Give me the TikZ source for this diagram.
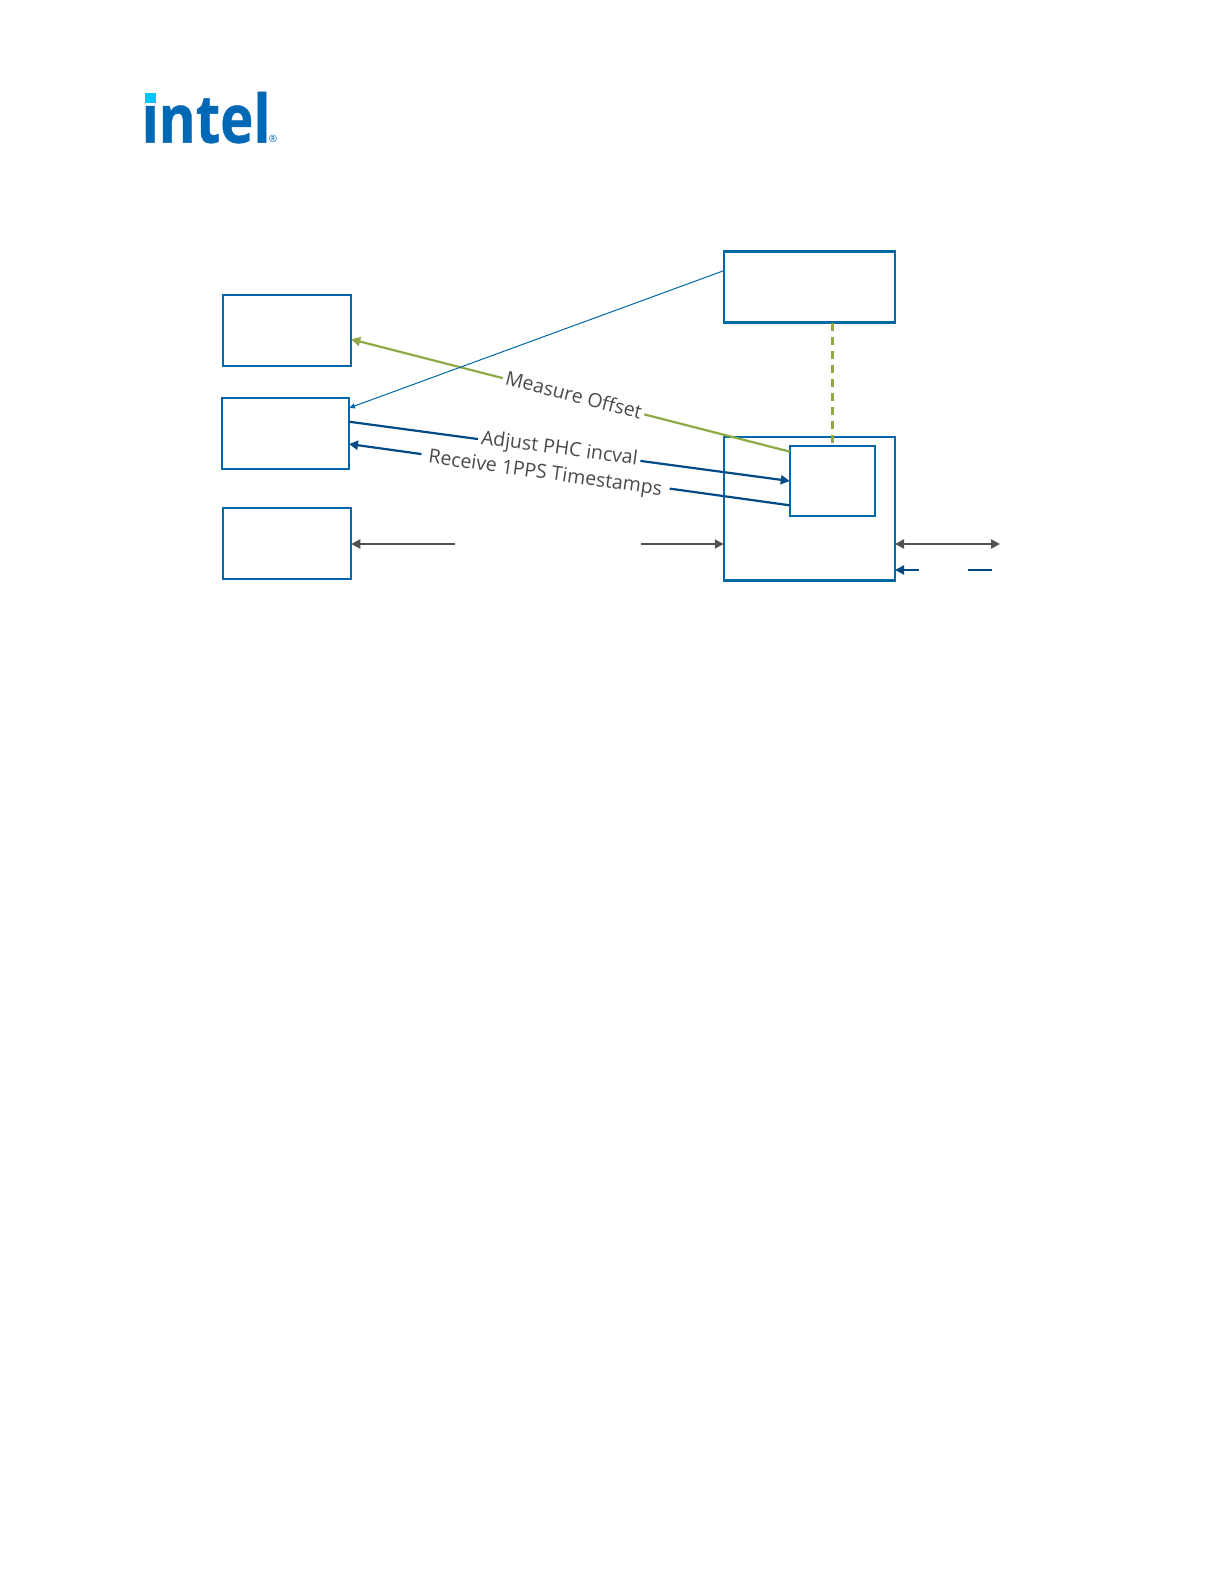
\documentclass[tikz,border=0pt]{standalone}
\usepackage{fontspec}
\setmainfont{Open Sans}
\newfontfamily\logofont[FakeStretch=0.84, FakeBold=0.6]{Open Sans}
\usetikzlibrary{arrows.meta, positioning}
\definecolor{cbox}{HTML}{0068A8}
\definecolor{cdark}{HTML}{004A86}
\definecolor{cgreen}{HTML}{8FAA45}
\definecolor{cgrey}{HTML}{525252}
\definecolor{clogo}{HTML}{0068B5}
\definecolor{ccyan}{HTML}{00C7FD}
\tikzset{
  every picture/.style={line width=2.2pt},
  box/.style={draw=cbox, fill=white, inner sep=0pt, outer sep=0pt, minimum width=128.5pt, minimum height=71pt},
  arrow/.style={-{Triangle[length=9pt, width=9pt]}, draw=#1},
  arrow/.default=cdark,
  dualarrow/.style={{Triangle[length=9pt, width=9pt]}-{Triangle[length=9pt, width=9pt]}, draw=cgrey},
  plain/.style={draw=#1},
  lab/.style={font=\fontsize{19.5}{19.5}\selectfont, text=cgrey!90!black, fill=white, sloped, inner xsep=3pt, inner ysep=0pt},
}

\begin{document}
\begin{tikzpicture}[x=1pt, y=-1pt, node distance=32pt and 1cm]
  \useasboundingbox (0,0) rectangle (1224,1584);
  % logo
  \node[font=\logofont\bfseries\fontsize{67}{67}\selectfont, text=clogo, inner sep=0pt, anchor=base west] (logotext) at (140.5,142.7) {intel};
  \node[fill=white, inner sep=0pt, minimum width=19pt, minimum height=19pt, anchor=south west] (logomask) at (139,105) {};
  \node[fill=ccyan, inner sep=0pt, minimum width=10.5pt, minimum height=10pt, anchor=north west] (logodot) at (144,92) {};
  \node[font=\fontsize{10}{10}\selectfont, text=clogo, inner sep=0pt] (logoreg) at (273,139) {®};
  % left column
  \node[box] (boxa) at (287,330.5) {};
  \node[box, below=32pt of boxa, xshift=-1.5pt, minimum width=127pt] (boxb) {};
  \node[box, below=39pt of boxb, xshift=1.5pt] (boxc) {};
  % right column
  \node[box, minimum width=171.3pt] (clockbox) at (809.4,287) {};
  \node[box, minimum width=171.3pt, minimum height=143.7pt, below=114.3pt of clockbox] (nicbox) {};
  \node[box, minimum width=85.3pt, minimum height=70.7pt] (phcbox) at (832.4,481) {};
  % free ends
  \coordinate (gleft) at (455,544);
  \coordinate (gright) at (641,544);
  \coordinate (gout) at (1000,544);
  \coordinate (bout) at (919,570);
  \coordinate (bstubl) at (968,570);
  \coordinate (bstubr) at (992,570);
  % connectors
  \draw[arrow=cgreen] ([yshift=-6pt]phcbox.north west) -- node[lab, pos=0.493, yshift=1.5pt] (lmeasure) {Measure Offset} ([yshift=-8.8pt]boxa.east);
  \draw[arrow=cbox, line width=1pt, -{Triangle[length=6pt, width=5pt]}] ([yshift=16.3pt]clockbox.west) -- ([yshift=25.5pt]boxb.east);
  \draw[arrow] ([yshift=11.8pt]boxb.east) -- node[lab, pos=0.477, yshift=0.5pt] (ladjust) {Adjust PHC incval} (phcbox.west);
  \draw[arrow] ([yshift=-24.3pt]phcbox.west) -- node[lab, pos=0.554, yshift=-3pt, inner xsep=7.5pt] (lreceive) {Receive 1PPS Timestamps} ([yshift=-10.5pt]boxb.east);
  \draw[plain=cgreen, dash pattern=on 8pt off 6pt] (clockbox.south -| phcbox.north) -- ([yshift=3pt]phcbox.north);
  \draw[arrow=cgrey] (gleft) -- (gleft -| boxc.east);
  \draw[arrow=cgrey] (gright) -- (gright -| nicbox.west);
  \draw[dualarrow] (gout -| nicbox.east) -- (gout);
  \draw[arrow] (bout) -- (bout -| nicbox.east);
  \draw[plain=cdark] (bstubl) -- (bstubr);
\end{tikzpicture}
\end{document}
